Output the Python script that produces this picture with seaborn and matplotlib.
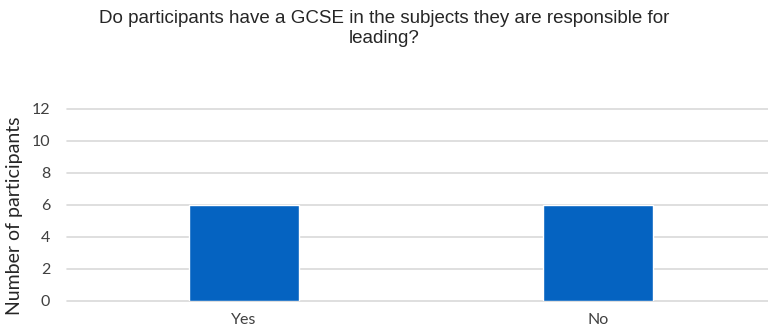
import pandas as pd
import matplotlib.pyplot as plt
import seaborn as sns

# Chart data
answers = ['Yes', 'No']
participants = [6, 6]

sns.set_theme(style='white')
plt.rcParams['font.family'] = ['Liberation Sans', 'DejaVu Sans']

df = pd.DataFrame({'answer': answers, 'count': participants})

fig = plt.figure(figsize=(7.68, 3.34), dpi=100)
# plot area runs slightly past the right edge, as in the original
ax = fig.add_axes([0.0872, 0.1, 0.922, 0.575])

sns.barplot(data=df, x='answer', y='count', color='#0563C1', saturation=1,
            width=0.31, ax=ax)

ax.set_xlim(-0.5, 1.5)
ax.set_ylim(0, 12)
ax.set_yticks(range(0, 13, 2))
ax.yaxis.grid(True, color='#D9D9D9', linewidth=1.2)
for g in ax.get_ygridlines():
    g.set_clip_on(False)
ax.set_axisbelow(True)
for s in ax.spines.values():
    s.set_visible(False)
ax.tick_params(axis='y', length=0, labelsize=11.5, colors='#404040', pad=12)
ax.tick_params(axis='x', length=0, labelsize=11.5, colors='#404040', pad=9)
for lbl in ax.get_xticklabels() + ax.get_yticklabels():
    lbl.set_family(['Lato', 'DejaVu Sans'])
ax.set_xlabel('')
ax.set_ylabel('Number of participants', fontsize=14, color='#262626',
              family=['Lato', 'DejaVu Sans'])
ax.yaxis.set_label_coords(-0.062, 0.44)

fig.text(0.5, 0.97, 'Do participants have a GCSE in the subjects they are responsible for\nleading?',
         ha='center', va='top', fontsize=13.5, color='#262626', linespacing=1.2)

plt.savefig('out.png', dpi=100)
plt.close()
